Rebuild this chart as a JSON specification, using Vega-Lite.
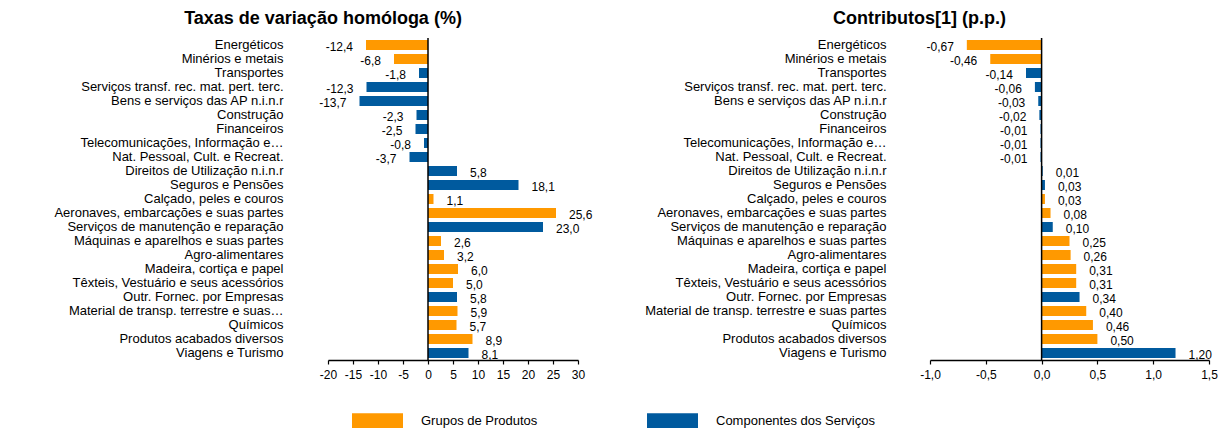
{
  "$schema": "https://vega.github.io/schema/vega-lite/v6.json",
  "padding": {"left": 53, "top": 10, "right": 5, "bottom": 0},
  "bounds": "flush",
  "spacing": 352,
  "config": {
    "locale": {"number": {"decimal": ",", "thousands": ".", "grouping": [3], "currency": ["", " €"], "minus": "-"}},
    "view": {"stroke": null},
    "font": "Liberation Sans",
    "axis": {"labelFont": "Liberation Sans", "labelColor": "#000"},
    "legend": {"labelFont": "Liberation Sans"},
    "title": {"font": "Liberation Sans", "fontSize": 18, "fontWeight": "bold", "color": "#000"}
  },
  "data": {"values": [
    {"lblT": "Energéticos", "lblC": "Energéticos", "taxa": -12.4, "contrib": -0.67, "tipo": "Grupos de Produtos"},
    {"lblT": "Minérios e metais", "lblC": "Minérios e metais", "taxa": -6.8, "contrib": -0.46, "tipo": "Grupos de Produtos"},
    {"lblT": "Transportes", "lblC": "Transportes", "taxa": -1.8, "contrib": -0.14, "tipo": "Componentes dos Serviços"},
    {"lblT": "Serviços transf. rec. mat. pert. terc.", "lblC": "Serviços transf. rec. mat. pert. terc.", "taxa": -12.3, "contrib": -0.06, "tipo": "Componentes dos Serviços"},
    {"lblT": "Bens e serviços das AP n.i.n.r", "lblC": "Bens e serviços das AP n.i.n.r", "taxa": -13.7, "contrib": -0.03, "tipo": "Componentes dos Serviços"},
    {"lblT": "Construção", "lblC": "Construção", "taxa": -2.3, "contrib": -0.02, "tipo": "Componentes dos Serviços"},
    {"lblT": "Financeiros", "lblC": "Financeiros", "taxa": -2.5, "contrib": -0.01, "tipo": "Componentes dos Serviços"},
    {"lblT": "Telecomunicações, Informação e…", "lblC": "Telecomunicações, Informação e…", "taxa": -0.8, "contrib": -0.01, "tipo": "Componentes dos Serviços"},
    {"lblT": "Nat. Pessoal, Cult. e Recreat.", "lblC": "Nat. Pessoal, Cult. e Recreat.", "taxa": -3.7, "contrib": -0.01, "tipo": "Componentes dos Serviços"},
    {"lblT": "Direitos de Utilização n.i.n.r", "lblC": "Direitos de Utilização n.i.n.r", "taxa": 5.8, "contrib": 0.01, "tipo": "Componentes dos Serviços"},
    {"lblT": "Seguros e Pensões", "lblC": "Seguros e Pensões", "taxa": 18.1, "contrib": 0.03, "tipo": "Componentes dos Serviços"},
    {"lblT": "Calçado, peles e couros", "lblC": "Calçado, peles e couros", "taxa": 1.1, "contrib": 0.03, "tipo": "Grupos de Produtos"},
    {"lblT": "Aeronaves, embarcações e suas partes", "lblC": "Aeronaves, embarcações e suas partes", "taxa": 25.6, "contrib": 0.08, "tipo": "Grupos de Produtos"},
    {"lblT": "Serviços de manutenção e reparação", "lblC": "Serviços de manutenção e reparação", "taxa": 23.0, "contrib": 0.10, "tipo": "Componentes dos Serviços"},
    {"lblT": "Máquinas e aparelhos e suas partes", "lblC": "Máquinas e aparelhos e suas partes", "taxa": 2.6, "contrib": 0.25, "tipo": "Grupos de Produtos"},
    {"lblT": "Agro-alimentares", "lblC": "Agro-alimentares", "taxa": 3.2, "contrib": 0.26, "tipo": "Grupos de Produtos"},
    {"lblT": "Madeira, cortiça e papel", "lblC": "Madeira, cortiça e papel", "taxa": 6.0, "contrib": 0.31, "tipo": "Grupos de Produtos"},
    {"lblT": "Têxteis, Vestuário e seus acessórios", "lblC": "Têxteis, Vestuário e seus acessórios", "taxa": 5.0, "contrib": 0.31, "tipo": "Grupos de Produtos"},
    {"lblT": "Outr. Fornec. por Empresas", "lblC": "Outr. Fornec. por Empresas", "taxa": 5.8, "contrib": 0.34, "tipo": "Componentes dos Serviços"},
    {"lblT": "Material de transp. terrestre e suas…", "lblC": "Material de transp. terrestre e suas partes", "taxa": 5.9, "contrib": 0.40, "tipo": "Grupos de Produtos"},
    {"lblT": "Químicos", "lblC": "Químicos", "taxa": 5.7, "contrib": 0.46, "tipo": "Grupos de Produtos"},
    {"lblT": "Produtos acabados diversos", "lblC": "Produtos acabados diversos", "taxa": 8.9, "contrib": 0.50, "tipo": "Grupos de Produtos"},
    {"lblT": "Viagens e Turismo", "lblC": "Viagens e Turismo", "taxa": 8.1, "contrib": 1.20, "tipo": "Componentes dos Serviços"}
  ]},
  "resolve": {"scale": {"color": "shared"}, "legend": {"color": "shared"}},
  "hconcat": [
    {
      "width": 250,
      "height": 322,
      "title": {"text": "Taxas de variação homóloga (%)", "anchor": "middle", "dx": -130, "offset": 9},
      "layer": [
        {
          "mark": {"type": "bar"},
          "encoding": {
            "y": {"field": "lblT", "type": "nominal", "sort": null, "scale": {"paddingInner": 0.286, "paddingOuter": 0.143}, "axis": {"title": null, "domain": false, "ticks": false, "tickSize": 0, "labelPadding": 45, "labelFontSize": 13, "labelLimit": 400}},
            "x": {"field": "taxa", "type": "quantitative", "scale": {"domain": [-20, 30], "nice": false, "zero": false}, "axis": {"title": null, "grid": false, "values": [-20, -15, -10, -5, 0, 5, 10, 15, 20, 25, 30], "tickCount": 11, "format": "d", "domainColor": "#000", "domainWidth": 1.5, "tickColor": "#000", "tickSize": 4, "tickWidth": 1.2, "labelFontSize": 12, "labelPadding": 5, "labelFlush": false, "labelOverlap": false}},
            "color": {"field": "tipo", "type": "nominal", "scale": {"domain": ["Grupos de Produtos", "Componentes dos Serviços"], "range": ["#FF9900", "#005A9E"]}, "legend": {"orient": "none", "legendX": 24, "legendY": 357, "direction": "horizontal", "columns": 2, "title": null, "symbolType": "M-1,-0.3H1V0.3H-1Z", "symbolSize": 2601, "symbolStrokeWidth": 0, "labelOffset": 18, "columnPadding": 109, "labelFontSize": 13, "labelColor": "#000", "padding": 0}}
          }
        },
        {
          "data": {"values": [{}]},
          "mark": {"type": "rule", "color": "#000", "strokeWidth": 1.5},
          "encoding": {"x": {"datum": 0, "axis": {"title": null, "grid": false, "values": [-20, -15, -10, -5, 0, 5, 10, 15, 20, 25, 30], "tickCount": 11, "format": "d", "domainColor": "#000", "domainWidth": 1.5, "tickColor": "#000", "tickSize": 4, "tickWidth": 1.2, "labelFontSize": 12, "labelPadding": 5, "labelFlush": false, "labelOverlap": false}}}
        },
        {
          "transform": [{"filter": "datum.taxa < 0"}],
          "mark": {"type": "text", "align": "right", "baseline": "middle", "dx": -13, "dy": 2, "fontSize": 12, "color": "#000"},
          "encoding": {
            "y": {"field": "lblT", "type": "nominal", "sort": null, "scale": {"paddingInner": 0.286, "paddingOuter": 0.143}, "axis": {"title": null, "domain": false, "ticks": false, "tickSize": 0, "labelPadding": 45, "labelFontSize": 13, "labelLimit": 400}},
            "x": {"field": "taxa", "type": "quantitative", "axis": {"title": null, "grid": false, "values": [-20, -15, -10, -5, 0, 5, 10, 15, 20, 25, 30], "tickCount": 11, "format": "d", "domainColor": "#000", "domainWidth": 1.5, "tickColor": "#000", "tickSize": 4, "tickWidth": 1.2, "labelFontSize": 12, "labelPadding": 5, "labelFlush": false, "labelOverlap": false}},
            "text": {"field": "taxa", "type": "quantitative", "format": ".1f"}
          }
        },
        {
          "transform": [{"filter": "datum.taxa >= 0"}],
          "mark": {"type": "text", "align": "left", "baseline": "middle", "dx": 13, "dy": 2, "fontSize": 12, "color": "#000"},
          "encoding": {
            "y": {"field": "lblT", "type": "nominal", "sort": null, "scale": {"paddingInner": 0.286, "paddingOuter": 0.143}, "axis": {"title": null, "domain": false, "ticks": false, "tickSize": 0, "labelPadding": 45, "labelFontSize": 13, "labelLimit": 400}},
            "x": {"field": "taxa", "type": "quantitative", "axis": {"title": null, "grid": false, "values": [-20, -15, -10, -5, 0, 5, 10, 15, 20, 25, 30], "tickCount": 11, "format": "d", "domainColor": "#000", "domainWidth": 1.5, "tickColor": "#000", "tickSize": 4, "tickWidth": 1.2, "labelFontSize": 12, "labelPadding": 5, "labelFlush": false, "labelOverlap": false}},
            "text": {"field": "taxa", "type": "quantitative", "format": ".1f"}
          }
        }
      ]
    },
    {
      "width": 279,
      "height": 322,
      "title": {"text": "Contributos[1] (p.p.)", "anchor": "middle", "dx": -150, "offset": 9},
      "layer": [
        {
          "mark": {"type": "bar"},
          "encoding": {
            "y": {"field": "lblC", "type": "nominal", "sort": null, "scale": {"paddingInner": 0.286, "paddingOuter": 0.143}, "axis": {"title": null, "domain": false, "ticks": false, "tickSize": 0, "labelPadding": 44, "labelFontSize": 13, "labelLimit": 400}},
            "x": {"field": "contrib", "type": "quantitative", "scale": {"domain": [-1, 1.5], "nice": false, "zero": false}, "axis": {"title": null, "grid": false, "values": [-1, -0.5, 0, 0.5, 1, 1.5], "format": ".1f", "domainColor": "#000", "domainWidth": 1.5, "tickColor": "#000", "tickSize": 4, "tickWidth": 1.2, "labelFontSize": 12, "labelPadding": 5, "labelFlush": false, "labelOverlap": false}},
            "color": {"field": "tipo", "type": "nominal", "scale": {"domain": ["Grupos de Produtos", "Componentes dos Serviços"], "range": ["#FF9900", "#005A9E"]}}
          }
        },
        {
          "data": {"values": [{}]},
          "mark": {"type": "rule", "color": "#000", "strokeWidth": 1.5},
          "encoding": {"x": {"datum": 0}}
        },
        {
          "transform": [{"filter": "datum.contrib < 0"}],
          "mark": {"type": "text", "align": "right", "baseline": "middle", "dx": -13, "dy": 2, "fontSize": 12, "color": "#000"},
          "encoding": {
            "y": {"field": "lblC", "type": "nominal", "sort": null, "scale": {"paddingInner": 0.286, "paddingOuter": 0.143}, "axis": {"title": null, "domain": false, "ticks": false, "tickSize": 0, "labelPadding": 44, "labelFontSize": 13, "labelLimit": 400}},
            "x": {"field": "contrib", "type": "quantitative"},
            "text": {"field": "contrib", "type": "quantitative", "format": ".2f"}
          }
        },
        {
          "transform": [{"filter": "datum.contrib >= 0"}],
          "mark": {"type": "text", "align": "left", "baseline": "middle", "dx": 13, "dy": 2, "fontSize": 12, "color": "#000"},
          "encoding": {
            "y": {"field": "lblC", "type": "nominal", "sort": null, "scale": {"paddingInner": 0.286, "paddingOuter": 0.143}, "axis": {"title": null, "domain": false, "ticks": false, "tickSize": 0, "labelPadding": 44, "labelFontSize": 13, "labelLimit": 400}},
            "x": {"field": "contrib", "type": "quantitative"},
            "text": {"field": "contrib", "type": "quantitative", "format": ".2f"}
          }
        }
      ]
    }
  ]
}
